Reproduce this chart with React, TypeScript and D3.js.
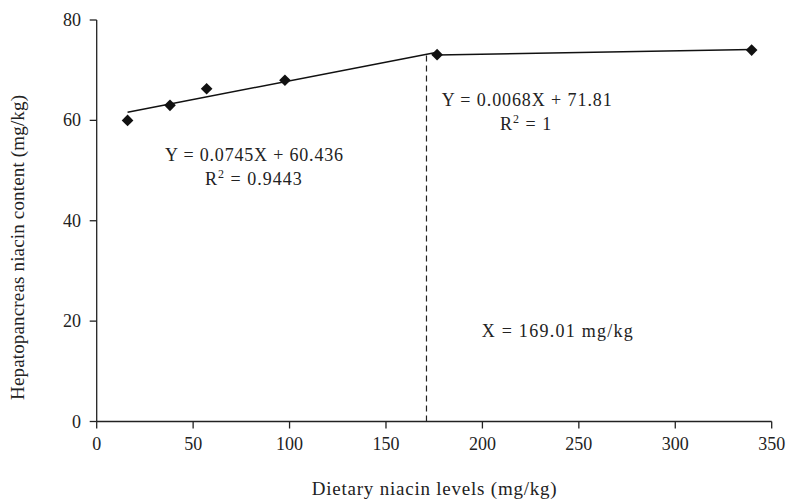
import React from "react";
import * as d3 from "d3";

const dietaryLevels = [16, 38, 57, 97.6, 176.5, 339.6];
const niacinContent = [60.0, 63.0, 66.3, 68.0, 73.1, 74.0];
const xTicks = [0, 50, 100, 150, 200, 250, 300, 350];
const yTicks = [0, 20, 40, 60, 80];
const seg1 = { slope: 0.0745, intercept: 60.436, from: 16, to: 176.5 };
const seg2 = { slope: 0.0068, intercept: 71.81, from: 176.5, to: 339.6 };
const breakX = 171;
const breakTopY = 73.2;

const W = 787, H = 502;
const font = "'Liberation Serif', 'Times New Roman', serif";
const ink = "#222";

export default function App() {
  const x = d3.scaleLinear().domain([0, 350]).range([96.7, 771.7]);
  const y = d3.scaleLinear().domain([0, 80]).range([421.5, 20]);
  const line = d3.line<number[]>().x((d) => x(d[0])).y((d) => y(d[1]));
  const segPath = (s: typeof seg1) =>
    line([
      [s.from, s.slope * s.from + s.intercept],
      [s.to, s.slope * s.to + s.intercept],
    ]);
  const diamond = d3.symbol().type(d3.symbolSquare).size(68)()!;
  const x0 = x(0), y0 = y(0);
  return (
    <svg width={W} height={H} style={{ position: "absolute", left: 0, top: 0, background: "#fff" }} fontFamily={font}>
      {/* axes */}
      <line x1={x0} x2={x(350)} y1={y0} y2={y0} stroke={ink} strokeWidth={1.3} />
      <line x1={x0} x2={x0} y1={y(80)} y2={y0} stroke={ink} strokeWidth={1.3} />
      {yTicks.map((t) => (
        <g key={"y" + t}>
          <line x1={x0 - 7} x2={x0} y1={y(t)} y2={y(t)} stroke={ink} strokeWidth={1.3} />
          <text x={81} y={y(t) + 6} textAnchor="end" fontSize={18} fill={ink}>{t}</text>
        </g>
      ))}
      {xTicks.map((t) => (
        <g key={"x" + t}>
          <line x1={x(t)} x2={x(t)} y1={y0} y2={y0 + 7} stroke={ink} strokeWidth={1.3} />
          <text x={x(t)} y={450} textAnchor="middle" fontSize={18} fill={ink}>{t}</text>
        </g>
      ))}
      {/* dashed break line */}
      <line x1={x(breakX)} x2={x(breakX)} y1={y0} y2={y(breakTopY)} stroke={ink} strokeWidth={1.2} strokeDasharray="6,4" />
      {/* fitted lines */}
      <path d={segPath(seg1) || ""} fill="none" stroke="#111" strokeWidth={1.5} />
      <path d={segPath(seg2) || ""} fill="none" stroke="#111" strokeWidth={1.5} />
      {/* points */}
      {dietaryLevels.map((d, i) => (
        <path key={i} d={diamond} transform={`translate(${x(d)},${y(niacinContent[i])}) rotate(45)`} fill="#111" />
      ))}
      {/* annotations */}
      <text x={165} y={161} fontSize={18} fill={ink} textLength={178} lengthAdjust="spacing">Y = 0.0745X + 60.436</text>
      <text x={205} y={185} fontSize={18} fill={ink} letterSpacing={1}>
        R<tspan dy={-7} fontSize={12}>2</tspan><tspan dy={7}> = 0.9443</tspan>
      </text>
      <text x={441.7} y={106} fontSize={18} fill={ink} textLength={170} lengthAdjust="spacing">Y = 0.0068X + 71.81</text>
      <text x={500} y={130} fontSize={18} fill={ink} letterSpacing={1}>
        R<tspan dy={-7} fontSize={12}>2</tspan><tspan dy={7}> = 1</tspan>
      </text>
      <text x={481.7} y={337} fontSize={18} fill={ink} textLength={151} lengthAdjust="spacing">X = 169.01 mg/kg</text>
      {/* axis titles */}
      <text x={311.7} y={495} fontSize={19} fill={ink} textLength={245} lengthAdjust="spacing">Dietary niacin levels (mg/kg)</text>
      <text transform={`translate(24,400) rotate(-90)`} fontSize={19} fill={ink} textLength={305} lengthAdjust="spacing">
        Hepatopancreas niacin content (mg/kg)
      </text>
    </svg>
  );
}
